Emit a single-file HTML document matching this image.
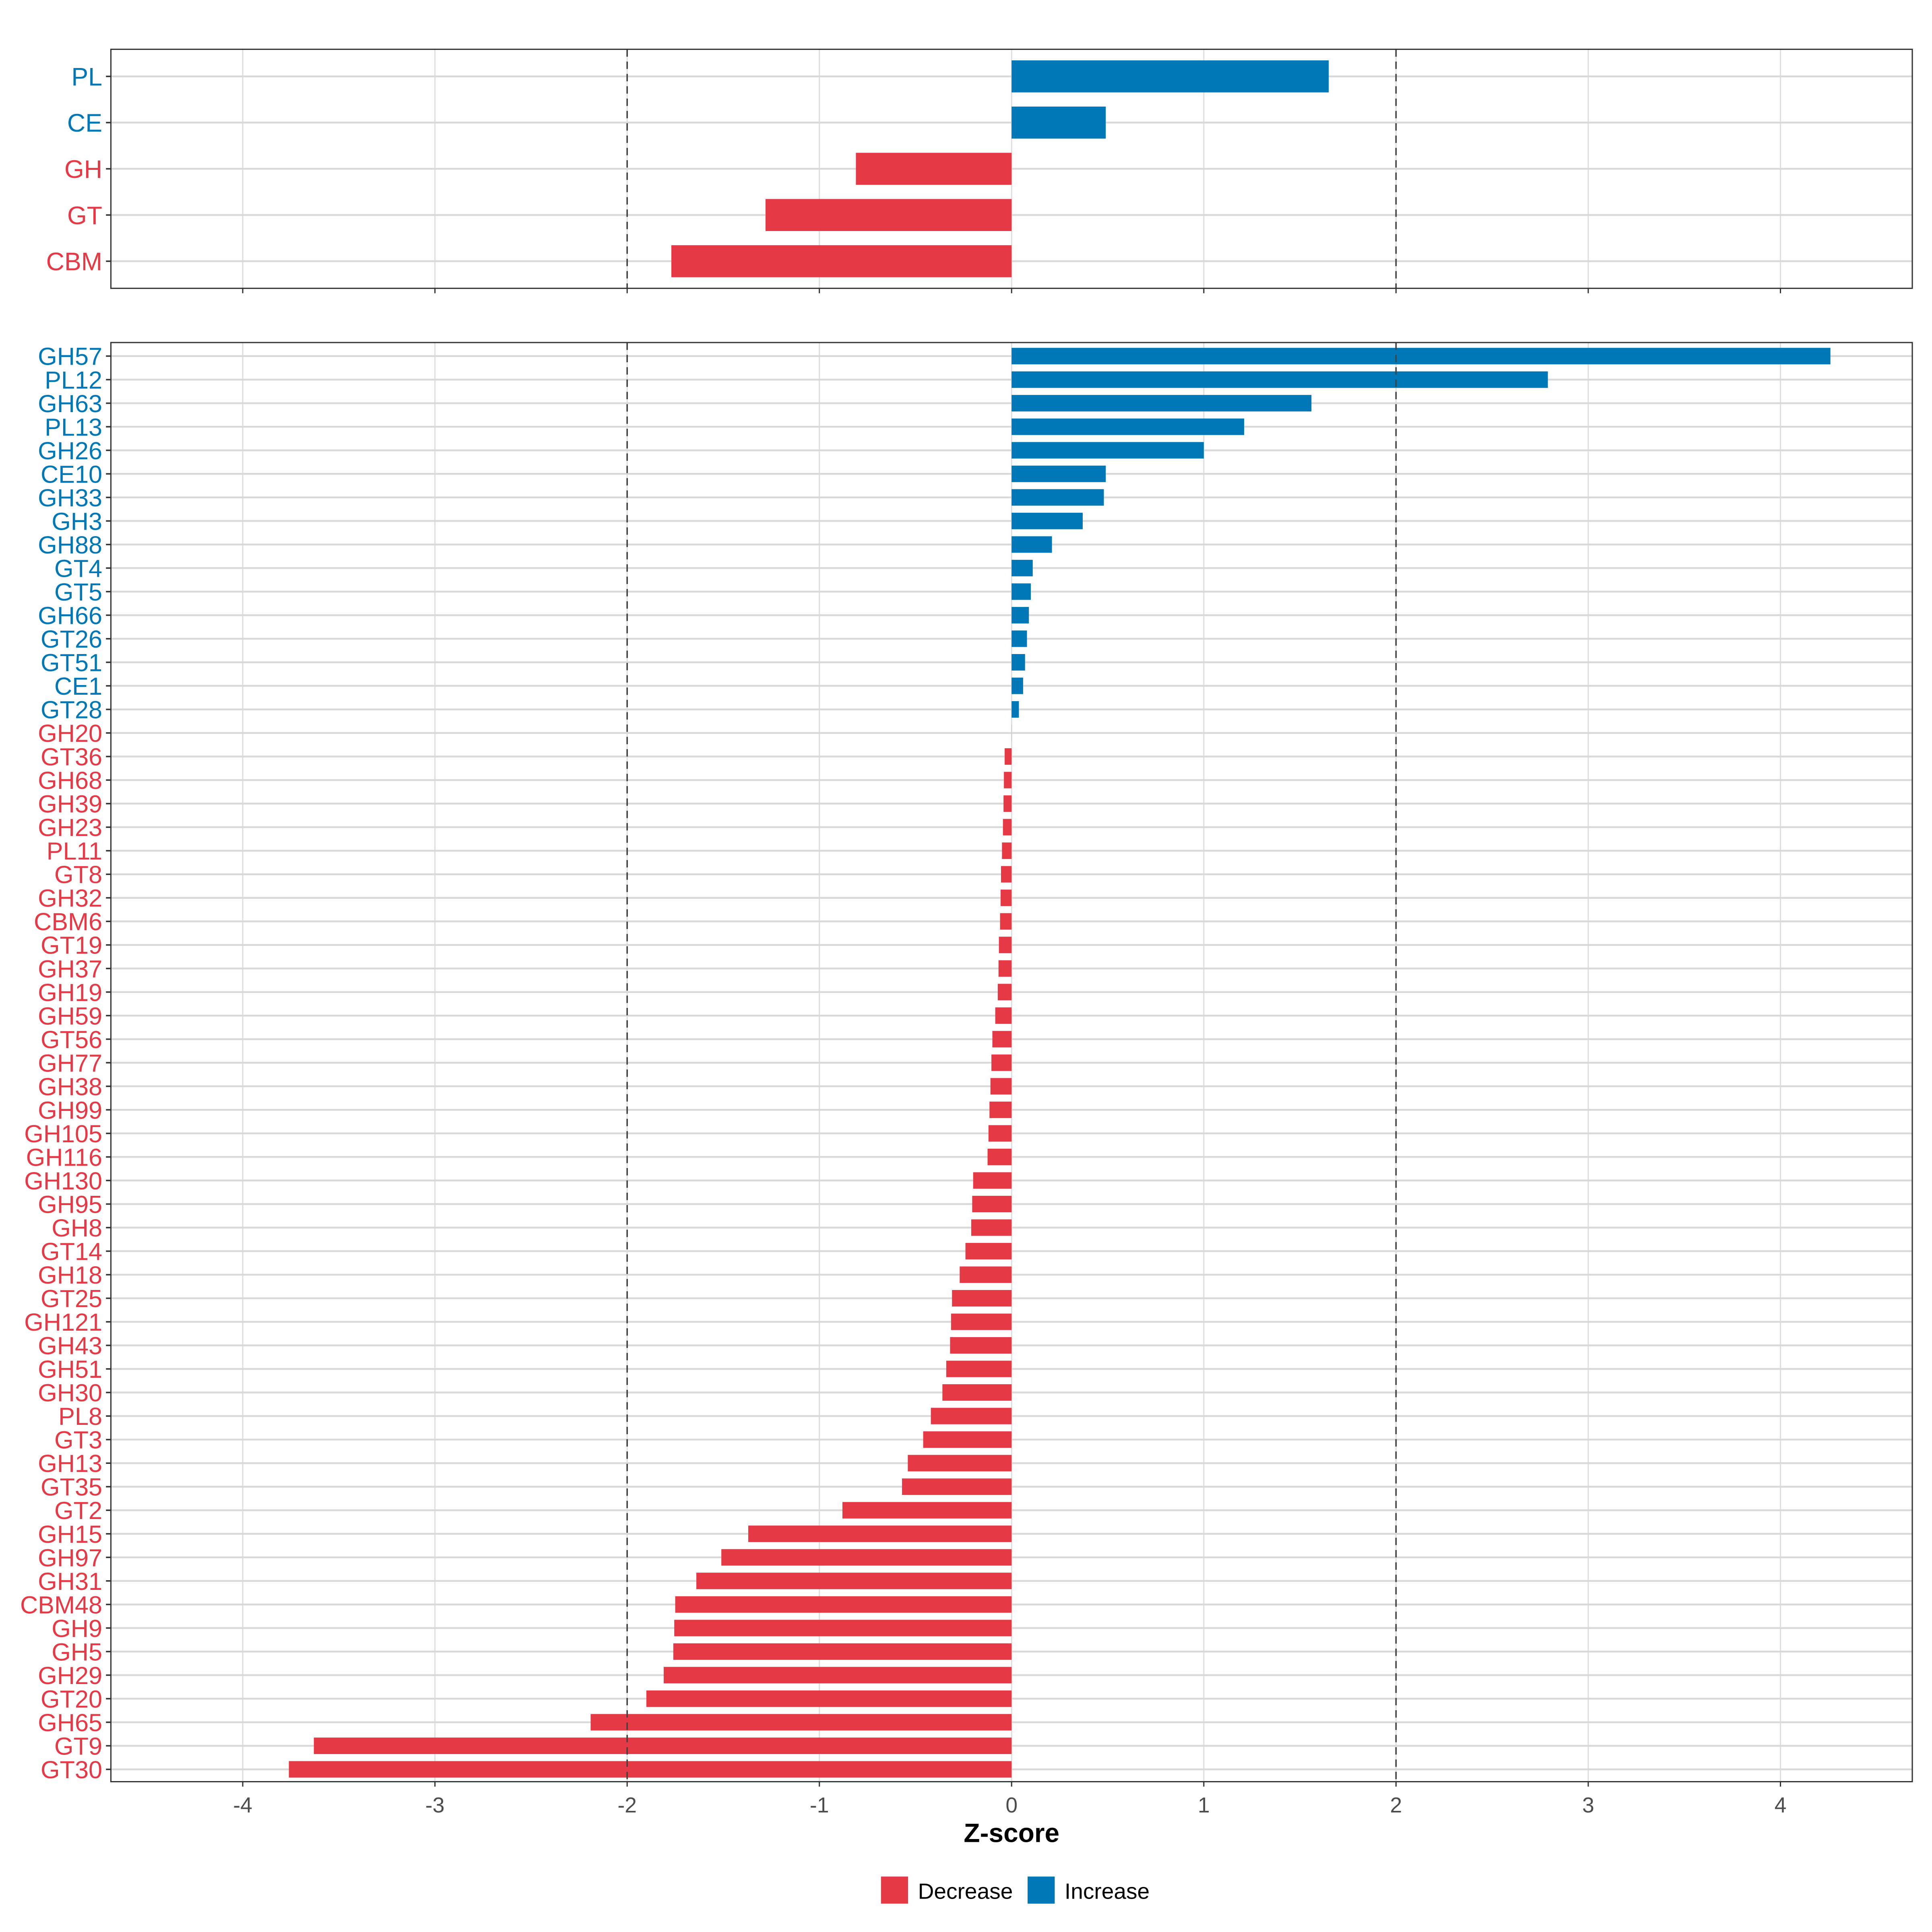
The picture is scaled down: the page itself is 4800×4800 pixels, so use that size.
<!DOCTYPE html>
<html><head><meta charset="utf-8"><style>
html,body{margin:0;padding:0;background:#fff;}
svg{display:block;font-family:"Liberation Sans",sans-serif;}
</style></head><body>
<svg id="chart" width="4800" height="4800" viewBox="0 0 1568 1568" xmlns="http://www.w3.org/2000/svg">
<rect width="1568" height="1568" fill="#fff"/>
<g id="top"></g>
<g id="bot"></g>
<text x="821" y="1495" text-anchor="middle" font-size="21.5" font-weight="bold" fill="#000">Z-score</text>
<g>
<rect x="715" y="1523" width="22" height="22" fill="#E63946"/>
<text x="745" y="1541" font-size="18" fill="#000">Decrease</text>
<rect x="834" y="1523" width="22" height="22" fill="#0077B6"/>
<text x="864" y="1541" font-size="18" fill="#000">Increase</text>
</g>
</svg>
<script>
const topCats = ["PL","CE","GH","GT","CBM"];
const topVals = [1.65,0.49,-0.81,-1.28,-1.77];
const botCats = ["GH57","PL12","GH63","PL13","GH26","CE10","GH33","GH3","GH88","GT4","GT5","GH66","GT26","GT51","CE1","GT28","GH20","GT36","GH68","GH39","GH23","PL11","GT8","GH32","CBM6","GT19","GH37","GH19","GH59","GT56","GH77","GH38","GH99","GH105","GH116","GH130","GH95","GH8","GT14","GH18","GT25","GH121","GH43","GH51","GH30","PL8","GT3","GH13","GT35","GT2","GH15","GH97","GH31","CBM48","GH9","GH5","GH29","GT20","GH65","GT9","GT30"];
const botVals = [4.26,2.79,1.56,1.21,1.00,0.49,0.48,0.37,0.21,0.11,0.10,0.09,0.08,0.07,0.06,0.038,-0.0005,-0.036,-0.04,-0.042,-0.045,-0.05,-0.055,-0.057,-0.06,-0.066,-0.068,-0.072,-0.085,-0.1,-0.105,-0.11,-0.115,-0.12,-0.125,-0.2,-0.205,-0.21,-0.24,-0.27,-0.31,-0.315,-0.32,-0.34,-0.36,-0.42,-0.46,-0.54,-0.57,-0.88,-1.37,-1.51,-1.64,-1.75,-1.755,-1.76,-1.81,-1.9,-2.19,-3.63,-3.76];
const xTicks = [-4,-3,-2,-1,0,1,2,3,4];
const xTickLabels = ["-4","-3","-2","-1","0","1","2","3","4"];
const refLines = [-2,2];

const NS="http://www.w3.org/2000/svg";
const X0=90,X1=1552;
function xs(v){return 821+v*156;}
function mk(parent,tag,attrs){const e=document.createElementNS(NS,tag);for(const k in attrs)e.setAttribute(k,attrs[k]);parent.appendChild(e);return e;}

function panel(g,cats,vals,y0,y1,firstY,step,barH,fs,name){
  mk(g,"rect",{x:X0,y:y0,width:X1-X0,height:y1-y0,fill:"#fff"});
  xTicks.forEach(t=>{mk(g,"line",{x1:xs(t),x2:xs(t),y1:y0,y2:y1,stroke:"#dedede","stroke-width":1});});
  cats.forEach((c,i)=>{const y=firstY+i*step;
    mk(g,"line",{x1:X0,x2:X1,y1:y,y2:y,stroke:"#d9d9d9","stroke-width":1.5});});
  cats.forEach((c,i)=>{const y=firstY+i*step,v=vals[i];
    const col=v>0?"#0077B6":"#E63946";
    const r=mk(g,"rect",{x:Math.min(xs(0),xs(v)),y:y-barH/2,width:Math.abs(xs(v)-xs(0)),height:barH,fill:col});
    
    
    mk(g,"line",{x1:X0-4,x2:X0,y1:y,y2:y,stroke:"#333","stroke-width":1.2});
    const t=mk(g,"text",{x:X0-7,y:y+fs*0.36,"text-anchor":"end","font-size":fs,fill:col});
    t.textContent=c;
    
    
  });
  refLines.forEach(v=>{const l=mk(g,"line",{x1:xs(v),x2:xs(v),y1:y0,y2:y1,stroke:"#444","stroke-width":1.2,"stroke-dasharray":"6,4"});
    
    });
  mk(g,"rect",{x:X0,y:y0,width:X1-X0,height:y1-y0,fill:"none",stroke:"#333","stroke-width":1});
  xTicks.forEach(t=>{mk(g,"line",{x1:xs(t),x2:xs(t),y1:y1,y2:y1+4,stroke:"#333","stroke-width":1});});
}
const gt=document.getElementById("top"), gb=document.getElementById("bot");
panel(gt,topCats,topVals,40,234,62,37.5,26,20.5,"summary");
panel(gb,botCats,botVals,278,1446,289,(1436-289)/60,13.4,20,"detail");
xTicks.forEach((t,i)=>{const e=mk(gb,"text",{x:xs(t),y:1471,"text-anchor":"middle","font-size":17.5,fill:"#4d4d4d"});
  e.textContent=xTickLabels[i];
  
  });
</script>
</body></html>
